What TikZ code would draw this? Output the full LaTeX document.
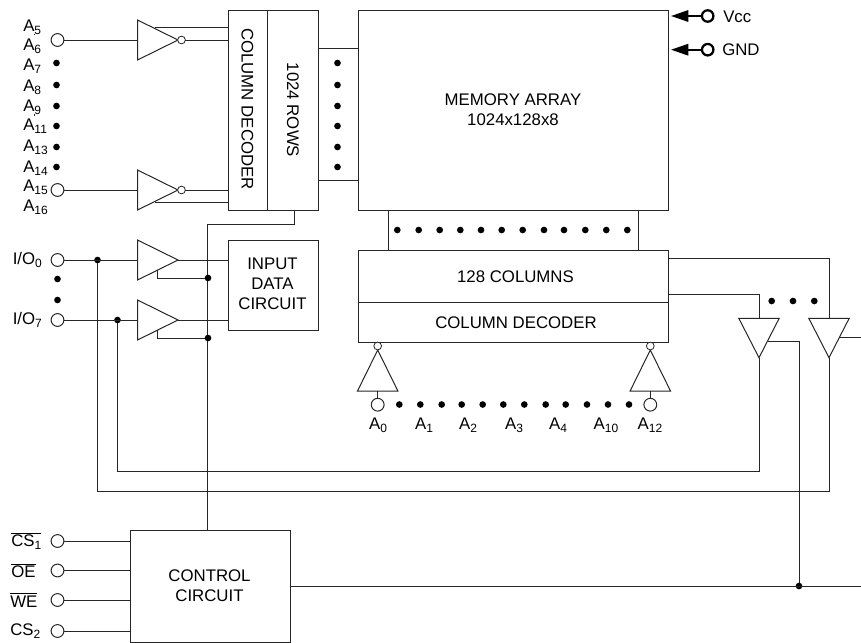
\documentclass[tikz,border=0pt]{standalone}
\usepackage{fontspec}
\setmainfont{Liberation Sans}
\usetikzlibrary{arrows.meta,calc}
\newcommand\sbs[1]{\raisebox{-0.36ex}{\fontsize{9}{9}\selectfont #1}}
\newcommand\ovl[1]{$\overline{\mbox{#1}}$}
% box: name, x1, y1, x2, y2
\newcommand\blk[5]{%
  \pgfmathsetmacro\bw{(#4-#2)*0.75}\pgfmathsetmacro\bh{(#5-#3)*0.75}%
  \pgfmathsetmacro\cx{(#2+#4)/2}\pgfmathsetmacro\cy{(#3+#5)/2}%
  \node[blockbox,minimum width=\bw pt,minimum height=\bh pt] (#1) at (\cx,\cy) {};}
% buffer pointing right: name, input x, centre y
\newcommand\bufR[3]{%
  \coordinate (#1-in) at (#2,#3);
  \coordinate (#1-out) at ($(#2,#3)+(40.5,0)$);
  \draw[wire,line join=miter] (#2,#3-20) -- (#2+40.5,#3) -- (#2,#3+20) -- cycle;}
\newcommand\bufV[4]{% name, cx, base y, apex y
  \coordinate (#1-in) at (#2,#3);
  \coordinate (#1-out) at (#2,#4);
  \draw[wire] (#2-20.2,#3) -- (#2,#4) -- (#2+20.2,#3) -- cycle;}
\tikzset{
  x=0.75pt,y=-0.75pt,
  wire/.style={line width=0.75pt,draw=black!85},
  blockbox/.style={draw=black!85,line width=0.75pt,rectangle,inner sep=0pt,outer sep=0pt},
  pin/.style={circle,draw=black!85,fill=white,line width=0.75pt,minimum size=9.6pt,inner sep=0pt,outer sep=0pt},
  bubble/.style={circle,draw=black!85,fill=white,line width=0.6pt,minimum size=5.8pt,inner sep=0pt,outer sep=0pt},
  dotn/.style={circle,fill=black,minimum size=5pt,inner sep=0pt,outer sep=0pt},
  lab/.style={font=\fontsize{12.6}{15}\selectfont,inner sep=0pt,align=center},
  pl/.style={lab,anchor=west},
  supply/.style={line width=1.6pt,draw=black},
  supplypin/.style={circle,draw=black,line width=1.7pt,minimum size=8.6pt,inner sep=0pt,outer sep=0pt},
}
\begin{document}
\begin{tikzpicture}
\useasboundingbox (0,0) rectangle (861,643);
% blocks
\blk{colbox}{228}{10}{267}{210}
\blk{rowbox}{267}{10}{318}{210}
\blk{link}{318}{48}{358}{180}
\blk{mem}{358}{10}{668}{210}
\blk{coll}{388.3}{210}{638.5}{250}
\blk{cols}{358}{250}{668}{302}
\blk{cdec}{358}{302}{668}{342}
\blk{inp}{228}{240}{318}{330}
\blk{ctl}{130}{530.7}{290}{642}
\node[lab,rotate=-90] (tcd) at (247.5,109) {COLUMN DECODER};
\node[lab,rotate=-90] (trw) at (293,110) {1024 ROWS};
\node[lab] (tmem) at (513,110) {MEMORY ARRAY\\1024x128x8};
\node[lab] (tcol) at (515.5,276.5) {128 COLUMNS};
\node[lab] (tdec) at (516,322.5) {COLUMN DECODER};
\node[lab] (tinp) at (272.5,284) {INPUT\\DATA\\CIRCUIT};
\node[lab] (tctl) at (209.5,586) {CONTROL\\CIRCUIT};
% address pins, top left
\node[pin] (pa) at (57.5,40) {};
\node[pin] (pb) at (57.5,190) {};
\foreach \y/\n in {63/a,85/b,106/c,126/d,147/e,167/f}{
  \node[dotn] (l\n) at (56.5,\y) {};
  \node[dotn] (r\n) at (337.5,\y) {};
}
\foreach \t/\y in {5/27,6/46,7/66,8/87,9/107,11/126,13/147,14/168,15/187,16/207}
  \node[pl] (ta\t) at (23,\y) {A\sbs{\t}};
\draw[wire] (34.3,33.5) -- (34.3,35);
\draw[wire] (34.3,114) -- (34.3,115.5);
% row buffers
\bufR{bt}{137.5}{40}
\bufR{bb}{137.5}{190}
\node[bubble] (bubt) at (181.5,40) {};
\node[bubble] (bubb) at (181.5,190) {};
\draw[wire] (pa) -- (bt-in);
\draw[wire] (pb) -- (bb-in);
\draw[wire] (bubt) -- (bubt-|colbox.west);
\draw[wire] (bubb) -- (bubb-|colbox.west);
\coordinate (bt-en) at (155,27);
\coordinate (bb-en) at (155,202);
\draw[wire] (bt-en) -- (bt-en-|colbox.west);
\draw[wire] (bb-en) -- (bb-en-|colbox.west);
% control net
\coordinate (ctltop) at (207.5,530.7);
\coordinate (up) at (294,210);
\draw[wire] (ctltop) -- (207.5,224.5) -- (294,224.5) -- (up);
% I/O
\node[pin] (io0) at (57.5,260) {};
\node[pin] (io7) at (57.5,320) {};
\node[lab,anchor=west] (tio0) at (12.5,260) {I/O\sbs{0}};
\node[lab,anchor=west] (tio7) at (12.5,320) {I/O\sbs{7}};
\node[dotn] (iod1) at (57.5,279) {};
\node[dotn] (iod2) at (57.5,300) {};
\bufR{i0}{137.5}{260}
\bufR{i7}{137.5}{320}
\node[dotn] (j0) at (97.5,260) {};
\node[dotn] (j7) at (117.5,320) {};
\node[dotn] (e0) at (208,278) {};
\node[dotn] (e7) at (208,338) {};
\draw[wire] (io0) -- (i0-in);
\draw[wire] (io7) -- (i7-in);
\draw[wire] (i0-out) -- (i0-out-|inp.west);
\draw[wire] (i7-out) -- (i7-out-|inp.west);
\draw[wire] (157.5,270) -- (157.5,278) -- (e0);
\draw[wire] (157.5,330) -- (157.5,338) -- (e7);
% column address
\foreach \x/\n in {399.3/a,420.3/b,441.7/c,461.7/d,482.7/e,503.3/f,524.3/g,545.7/h,565.7/i,587/j,608/k,629/l}
  \node[dotn] (cd\n) at (\x,404.5) {};
\foreach \x/\n in {397.3/a,418.7/b,439.7/c,460.3/d,481/e,501.7/f,522.7/g,544/h,564/i,585.3/j,606.3/k,627.3/l}
  \node[dotn] (ud\n) at (\x,230) {};
\bufV{c0}{377.7}{391}{350}
\bufV{c1}{650.3}{391}{350}
\node[bubble] (bc0) at (377.7,346) {};
\node[bubble] (bc1) at (650.3,346) {};
\node[pin] (pc0) at (377.7,404.7) {};
\node[pin] (pc1) at (650.3,404.7) {};
\draw[wire] (pc0) -- (c0-in);
\draw[wire] (pc1) -- (c1-in);
\foreach \x/\t in {378/0,424/1,468/2,514/3,558/4,606/10,650/12}
  \node[lab] (tc\t) at (\x,425) {A\sbs{\t}};
% output buffers
\bufV{o1}{759}{318.3}{357.7}
\bufV{o2}{829}{318.3}{357.7}
\coordinate (cs1) at (668,294);
\coordinate (cs2) at (668,258.5);
\draw[wire] (cs1) -- (759,294) -- (o1-in);
\draw[wire] (cs2) -- (829,258.5) -- (o2-in);
\node[dotn] (od1) at (771.7,301) {};
\node[dotn] (od2) at (793,301) {};
\node[dotn] (od3) at (814.3,301) {};
\draw[wire] (o1-out) -- (759,471) -- (117.5,471) -- (j7);
\draw[wire] (o2-out) -- (829,491) -- (97.5,491) -- (j0);
% control
\foreach \y/\n in {541/a,570.5/b,600/c,631/d}{
  \node[pin] (ci\n) at (57.5,\y) {};
  \draw[wire] (ci\n) -- (ci\n-|ctl.west);
}
\node[lab,anchor=west] (tcs1) at (11,541) {\ovl{CS\sbs{1}}};
\node[lab,anchor=west] (toe) at (11,570.5) {\ovl{OE}};
\node[lab,anchor=west] (twe) at (10,600) {\ovl{WE}};
\node[lab,anchor=west] (tcs2) at (10,631) {CS\sbs{2}};
\node[dotn] (jout) at (799,586) {};
\coordinate (rout) at (861,586);
\coordinate (ren) at (861,337.5);
\draw[wire] (ctl.east|-jout) -- (rout);
\draw[wire] (768,341.7) -- (799,341.7) -- (jout);
\draw[wire] (840,337.5) -- (ren);
% supply
\node[supplypin] (vcc) at (707.7,16) {};
\node[supplypin] (gnd) at (707.7,49.7) {};
\coordinate (vt) at (671,16);
\coordinate (gt) at (671,49.7);
\draw[supply,-{Triangle[length=13pt,width=8.5pt]}] (vcc) -- (vt);
\draw[supply,-{Triangle[length=13pt,width=8.5pt]}] (gnd) -- (gt);
\node[lab,anchor=west] (tv) at (723,17) {Vcc};
\node[lab,anchor=west] (tg) at (722,50) {GND};
\end{tikzpicture}
\end{document}
